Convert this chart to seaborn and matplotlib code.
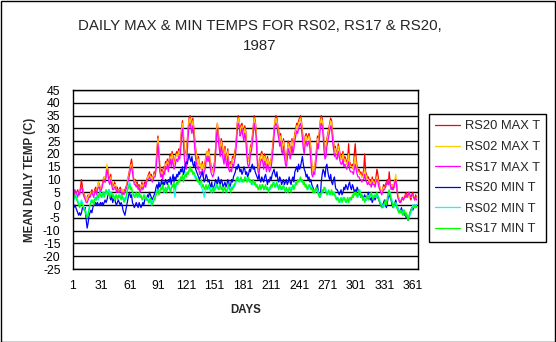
import numpy as np
import pandas as pd
import matplotlib
matplotlib.use("Agg")
import matplotlib.pyplot as plt
import seaborn as sns
from matplotlib.patches import Rectangle

# ---------------- data ----------------
SERIES_NAMES = ["RS20 MAX T", "RS02 MAX T", "RS17 MAX T",
                "RS20 MIN T", "RS02 MIN T", "RS17 MIN T"]
X_TICKS = [1, 31, 61, 91, 121, 151, 181, 211, 241, 271, 301, 331, 361]
Y_TICKS = list(range(-25, 50, 5))

RS20_MAX = [
    5, 6, 4, 3, 5, 6, 4, 5, 7, 10,
    7, 5, 4, 3, 2, 3, 4, 3, 4, 5,
    6, 5, 4, 6, 7, 5, 7, 9, 8, 6,
    7, 8, 10, 11, 9, 12, 15, 14, 11, 10,
    12, 9, 8, 7, 9, 8, 6, 7, 5, 6,
    7, 6, 5, 6, 5, 6, 7, 8, 10, 12,
    14, 16, 18, 15, 11, 9, 10, 8, 9, 7,
    8, 6, 7, 9, 7, 8, 9, 8, 10, 11,
    12, 13, 11, 12, 10, 11, 13, 12, 16, 22,
    27, 21, 15, 12, 14, 11, 15, 13, 17, 16,
    18, 15, 18, 20, 17, 21, 19, 16, 18, 20,
    21, 19, 22, 20, 24, 30, 33, 27, 22, 19,
    21, 25, 30, 34, 35, 33, 31, 34, 30, 26,
    22, 19, 17, 19, 15, 16, 14, 17, 13, 15,
    17, 20, 21, 19, 22, 18, 16, 14, 13, 15,
    17, 22, 30, 32, 28, 25, 22, 26, 24, 21,
    19, 23, 20, 18, 22, 17, 15, 17, 16, 19,
    18, 20, 22, 26, 32, 35, 33, 30, 31, 32,
    30, 28, 31, 29, 24, 19, 17, 19, 23, 24,
    27, 31, 35, 33, 30, 21, 15, 14, 18, 20,
    21, 19, 17, 20, 18, 16, 19, 17, 15, 17,
    18, 21, 25, 30, 33, 35, 34, 31, 29, 26,
    28, 24, 23, 26, 22, 18, 17, 21, 25, 24,
    20, 23, 26, 22, 25, 28, 30, 32, 31, 33,
    34, 35, 33, 29, 25, 23, 27, 28, 26, 27,
    28, 26, 22, 16, 13, 15, 14, 18, 22, 27,
    25, 29, 33, 35, 34, 30, 24, 20, 22, 26,
    28, 30, 32, 34, 33, 28, 25, 22, 23, 20,
    21, 24, 22, 20, 18, 19, 21, 17, 19, 18,
    16, 18, 24, 17, 16, 15, 16, 14, 20, 24,
    18, 15, 13, 14, 12, 13, 11, 12, 14, 20,
    13, 12, 10, 11, 9, 10, 8, 11, 9, 10,
    8, 11, 14, 12, 9, 7, 6, 5, 6, 8,
    7, 8, 9, 10, 8, 13, 9, 7, 8, 6,
    7, 10, 9, 8, 4, 3, 2, 1, 2, 3,
    2, 3, 4, 5, 3, 4, 5, 3, 2, 4,
    5, 3, 2, 4, 3,
]

RS02_MAX = [
    4, 5, 5, 3, 4, 5, 4, 5, 6, 7,
    6, 5, 3, 3, 2, 3, 3, 4, 4, 5,
    5, 5, 4, 5, 6, 5, 8, 9, 7, 6,
    7, 8, 9, 11, 10, 13, 16, 13, 10, 9,
    11, 9, 7, 7, 8, 8, 6, 6, 5, 6,
    6, 6, 5, 6, 5, 5, 6, 8, 10, 11,
    13, 15, 16, 14, 11, 9, 9, 8, 8, 7,
    7, 6, 7, 8, 7, 8, 8, 8, 9, 11,
    11, 12, 11, 11, 10, 11, 12, 12, 15, 21,
    26, 21, 15, 12, 13, 11, 14, 13, 16, 16,
    17, 15, 17, 19, 17, 20, 18, 16, 17, 19,
    20, 19, 21, 20, 23, 29, 32, 27, 21, 19,
    20, 24, 29, 33, 34, 32, 30, 33, 29, 25,
    21, 19, 16, 18, 15, 16, 14, 16, 13, 15,
    16, 19, 21, 19, 21, 18, 15, 14, 13, 14,
    16, 21, 29, 32, 27, 24, 21, 25, 23, 20,
    18, 22, 19, 18, 21, 16, 15, 16, 16, 18,
    18, 19, 21, 25, 31, 34, 33, 29, 30, 31,
    29, 27, 30, 28, 23, 19, 17, 18, 22, 23,
    26, 30, 34, 32, 29, 20, 15, 14, 17, 19,
    20, 19, 16, 19, 18, 15, 18, 17, 15, 16,
    18, 20, 24, 29, 33, 34, 33, 30, 28, 25,
    27, 24, 22, 25, 21, 18, 17, 20, 24, 23,
    20, 22, 25, 22, 24, 27, 29, 31, 30, 32,
    33, 34, 32, 28, 25, 22, 26, 27, 25, 26,
    27, 25, 21, 16, 13, 15, 14, 17, 21, 26,
    24, 28, 32, 34, 33, 29, 23, 20, 21, 25,
    27, 29, 31, 33, 32, 27, 24, 21, 22, 20,
    20, 23, 21, 19, 18, 18, 20, 17, 18, 17,
    16, 17, 20, 16, 15, 15, 15, 14, 17, 19,
    16, 14, 13, 13, 12, 12, 11, 11, 12, 14,
    12, 11, 10, 10, 9, 9, 8, 10, 9, 9,
    8, 10, 11, 10, 8, 7, 6, 5, 6, 7,
    7, 7, 8, 9, 8, 10, 8, 7, 8, 7,
    8, 10, 12, 8, 4, 3, 2, 2, 2, 3,
    3, 3, 3, 4, 3, 3, 4, 3, 3, 3,
    4, 3, 2, 3, 3,
]

RS17_MAX = [
    5, 4, 6, 5, 4, 3, 5, 4, 6, 7,
    6, 4, 3, 2, 1, 1, 2, 3, 3, 4,
    5, 4, 3, 5, 6, 4, 6, 7, 7, 5,
    6, 7, 9, 10, 9, 11, 14, 12, 9, 8,
    10, 8, 6, 6, 7, 7, 5, 6, 5, 5,
    6, 5, 4, 5, 4, 5, 6, 7, 9, 10,
    12, 14, 15, 13, 10, 8, 8, 7, 8, 6,
    7, 5, 6, 7, 6, 7, 8, 7, 9, 10,
    10, 11, 10, 10, 9, 10, 11, 11, 14, 19,
    24, 19, 13, 11, 12, 10, 13, 12, 15, 14,
    16, 13, 16, 18, 15, 18, 16, 14, 15, 17,
    18, 17, 19, 18, 21, 27, 30, 24, 18, 15,
    14, 20, 27, 31, 32, 30, 28, 31, 27, 22,
    18, 16, 14, 15, 12, 13, 12, 14, 11, 13,
    14, 17, 19, 17, 19, 16, 13, 12, 11, 12,
    14, 19, 27, 30, 25, 22, 19, 23, 21, 18,
    16, 20, 17, 15, 19, 14, 13, 14, 13, 16,
    15, 17, 19, 23, 29, 32, 31, 27, 28, 30,
    27, 25, 28, 26, 20, 16, 15, 16, 20, 21,
    24, 28, 32, 30, 27, 18, 13, 12, 15, 17,
    18, 17, 14, 17, 16, 13, 16, 15, 13, 14,
    15, 18, 22, 27, 31, 32, 31, 28, 26, 23,
    25, 21, 20, 23, 19, 16, 15, 18, 22, 21,
    18, 20, 23, 20, 22, 25, 27, 29, 28, 30,
    31, 32, 30, 26, 22, 20, 24, 25, 23, 24,
    25, 22, 17, 12, 11, 13, 12, 15, 19, 24,
    22, 26, 30, 32, 31, 27, 21, 18, 19, 23,
    25, 27, 29, 31, 30, 25, 22, 19, 20, 18,
    18, 21, 19, 17, 16, 16, 18, 15, 16, 15,
    14, 15, 17, 14, 13, 13, 13, 12, 14, 16,
    14, 12, 11, 11, 10, 10, 9, 10, 10, 12,
    10, 9, 8, 9, 8, 8, 7, 9, 8, 8,
    7, 9, 10, 9, 7, 6, 5, 4, 5, 6,
    6, 7, 8, 9, 8, 10, 8, 6, 7, 6,
    7, 9, 10, 7, 3, 2, 1, 1, 2, 3,
    2, 3, 3, 4, 3, 4, 5, 4, 3, 4,
    4, 3, 2, 3, 2,
]

RS20_MIN = [
    0, -1, 0, -1, -2, -3, -4, -3, -4, -3,
    -1, -1, -2, -1, -6, -9, -7, -4, -3, -2,
    -3, -1, 0, 0, 1, 0, 1, 0, 0, 1,
    0, 1, 0, 1, 2, 1, 2, 4, 6, 3,
    2, 4, 1, 2, 3, 1, 0, 1, 2, 1,
    0, 1, 0, -2, -3, -4, -2, 0, 2, 4,
    5, 3, 4, 1, 0, -1, 0, 1, 0, -1,
    1, 0, -1, 0, 1, 0, 2, 3, 2, 4,
    3, 5, 4, 3, 2, 3, 4, 5, 7, 8,
    6, 9, 7, 8, 10, 7, 9, 8, 10, 9,
    8, 10, 9, 11, 8, 10, 12, 9, 11, 10,
    12, 11, 13, 12, 14, 13, 15, 12, 13, 16,
    17, 16, 18, 20, 18, 17, 19, 16, 15, 17,
    14, 13, 12, 11, 10, 11, 12, 13, 11, 9,
    10, 12, 11, 9, 10, 8, 7, 9, 6, 7,
    8, 10, 9, 8, 11, 9, 8, 10, 9, 7,
    8, 9, 7, 8, 10, 9, 7, 8, 10, 9,
    11, 12, 13, 15, 14, 16, 15, 13, 14, 12,
    13, 15, 14, 12, 13, 11, 12, 14, 13, 15,
    16, 14, 15, 13, 12, 11, 10, 12, 10, 9,
    11, 10, 9, 11, 12, 10, 8, 10, 9, 11,
    10, 12, 13, 14, 12, 11, 13, 10, 9, 11,
    10, 8, 9, 10, 8, 9, 10, 8, 9, 11,
    9, 8, 10, 11, 9, 13, 14, 15, 13, 16,
    14, 15, 17, 19, 16, 14, 13, 11, 12, 10,
    11, 9, 10, 8, 7, 6, 5, 6, 7, 8,
    5, 4, 3, 9, 12, 14, 13, 11, 15, 16,
    13, 11, 10, 12, 9, 8, 10, 11, 7, 6,
    6, 5, 4, 5, 6, 4, 5, 7, 6, 8,
    7, 6, 8, 9, 7, 6, 8, 7, 5, 6,
    5, 7, 6, 4, 5, 3, 4, 2, 3, 4,
    3, 2, 4, 5, 3, 2, 3, 1, 2, 3,
    2, 3, 4, 3, 2, 1, 0, -1, 0, 1,
    2, 0, -1, 1, 3, 4, 3, 2, 0, -1,
    0, 1, 2, 0, -1, -2, -3, -2, -1, -3,
    -2, -4, -3, -5, -4, -6, -5, -3, -2, -1,
    -2, -1, 0, -1, 0,
]

RS02_MIN = [
    3, 2, 3, 4, 3, 2, 1, 0, 1, 2,
    1, 0, -1, -2, -3, -5, -3, -1, 0, 2,
    1, 2, 1, 3, 2, 3, 4, 2, 4, 5,
    4, 3, 5, 4, 5, 6, 4, 5, 6, 4,
    5, 4, 4, 3, 3, 4, 3, 3, 4, 3,
    4, 3, 3, 2, 2, 3, 2, 4, 7, 8,
    9, 7, 6, 5, 4, 4, 3, 4, 4, 3,
    4, 4, 3, 3, 2, 3, 4, 3, 2, 3,
    2, 1, 2, 0, 1, 2, 3, 2, 5, 6,
    5, 5, 6, 6, 7, 7, 6, 5, 6, 6,
    7, 7, 6, 6, 7, 7, 8, 5, 3, 7,
    8, 9, 9, 10, 10, 11, 11, 10, 10, 13,
    12, 12, 13, 13, 14, 14, 13, 13, 12, 11,
    10, 11, 10, 9, 9, 8, 7, 6, 5, 3,
    5, 7, 7, 6, 7, 7, 6, 5, 6, 6,
    7, 6, 7, 8, 7, 6, 7, 7, 6, 6,
    7, 6, 6, 5, 6, 7, 7, 6, 6, 7,
    8, 7, 8, 9, 10, 11, 10, 9, 10, 10,
    9, 10, 10, 11, 10, 9, 10, 10, 9, 9,
    8, 9, 9, 8, 8, 7, 7, 6, 7, 7,
    8, 7, 7, 6, 7, 7, 6, 6, 7, 6,
    7, 8, 8, 9, 8, 7, 8, 8, 7, 7,
    6, 7, 6, 7, 7, 6, 6, 5, 6, 6,
    7, 6, 6, 7, 7, 8, 8, 9, 9, 10,
    9, 10, 10, 9, 9, 8, 8, 7, 7, 6,
    7, 8, 7, 6, 6, 5, 6, 5, 6, 6,
    5, 4, 3, 4, 5, 6, 6, 7, 6, 5,
    4, 5, 5, 4, 5, 5, 4, 5, 4, 3,
    2, 3, 2, 1, 2, 2, 3, 2, 3, 2,
    1, 2, 2, 3, 2, 3, 3, 4, 4, 5,
    4, 4, 3, 5, 6, 4, 3, 3, 2, 2,
    3, 2, 3, 3, 4, 3, 4, 4, 3, 3,
    4, 3, 4, 4, 3, 2, 1, 0, 0, -1,
    0, 1, 1, 2, 4, 5, 5, 3, 2, 0,
    -1, 0, 1, 0, -1, -2, -3, -2, -3, -3,
    -2, -3, -3, -4, -4, -5, -5, -4, -3, -2,
    0, -1, 0, -1, 0,
]

RS17_MIN = [
    2, 3, 4, 3, 2, 1, 0, -1, 0, 1,
    0, -1, -2, -3, -4, -5, -4, -2, 0, 1,
    2, 1, 0, 2, 3, 2, 4, 3, 5, 4,
    3, 4, 5, 3, 4, 6, 5, 4, 5, 3,
    4, 5, 3, 4, 2, 3, 4, 2, 3, 4,
    3, 2, 4, 3, 1, 2, 3, 5, 6, 7,
    8, 6, 7, 5, 4, 3, 4, 5, 3, 4,
    5, 3, 4, 2, 3, 4, 3, 2, 3, 2,
    1, 2, 3, 1, 0, 1, 2, 3, 4, 5,
    6, 4, 5, 7, 6, 8, 5, 6, 7, 5,
    6, 8, 7, 5, 6, 8, 7, 9, 6, 8,
    9, 8, 10, 9, 11, 10, 12, 9, 11, 12,
    11, 13, 12, 14, 15, 13, 14, 12, 13, 12,
    11, 10, 9, 10, 8, 9, 10, 7, 8, 6,
    7, 8, 6, 7, 8, 6, 5, 6, 7, 5,
    6, 7, 8, 7, 6, 7, 8, 6, 7, 5,
    6, 7, 5, 6, 7, 8, 6, 5, 7, 6,
    7, 8, 9, 10, 11, 10, 9, 10, 11, 9,
    10, 9, 11, 10, 9, 10, 11, 9, 10, 8,
    9, 10, 8, 9, 7, 8, 6, 7, 8, 6,
    7, 8, 6, 7, 8, 6, 7, 5, 6, 7,
    8, 7, 9, 8, 7, 8, 9, 7, 6, 8,
    7, 6, 7, 8, 6, 5, 7, 6, 5, 7,
    6, 5, 7, 8, 6, 7, 9, 8, 10, 9,
    10, 11, 9, 10, 8, 9, 7, 8, 6, 7,
    8, 7, 6, 7, 5, 6, 5, 6, 7, 5,
    4, 3, 4, 5, 6, 5, 7, 6, 5, 4,
    5, 6, 4, 5, 6, 4, 5, 4, 3, 2,
    3, 2, 1, 2, 3, 1, 2, 3, 2, 1,
    2, 3, 1, 2, 3, 2, 4, 3, 5, 4,
    5, 3, 4, 6, 5, 3, 4, 2, 3, 1,
    2, 3, 4, 2, 3, 4, 5, 3, 2, 4,
    3, 4, 5, 3, 2, 1, 0, -1, -1, 0,
    1, 2, 0, 3, 5, 6, 4, 2, 1, -1,
    0, 1, 0, -1, -2, -3, -2, -3, -2, -4,
    -3, -2, -4, -3, -5, -6, -4, -3, -2, -1,
    -1, 0, -1, 0, -1,
]

SERIES_VALUES = [RS20_MAX, RS02_MAX, RS17_MAX, RS20_MIN, RS02_MIN, RS17_MIN]
COLORS = ["#FF0000", "#FFCC00", "#FF00FF", "#0000FF", "#00FFFF", "#00FF00"]

# long-format table for seaborn
frames = []
for name, vals in zip(SERIES_NAMES, SERIES_VALUES):
    frames.append(pd.DataFrame({"day": np.arange(1, len(vals) + 1),
                                "temp": vals, "series": name}))
df = pd.concat(frames, ignore_index=True)

# ---------------- style ----------------
sns.set_style("white")
plt.rcParams["font.family"] = ["Liberation Sans", "DejaVu Sans"]

W, H = 556, 342
fig = plt.figure(figsize=(W / 100, H / 100), dpi=100)
fig.patch.set_facecolor("white")
L, R, T, B = 73, 418, 90, 269
ax = fig.add_axes([L / W, 1 - B / H, (R - L) / W, (B - T) / H])

for name, col in zip(SERIES_NAMES, COLORS):
    sns.lineplot(data=df[df["series"] == name], x="day", y="temp",
                 color=col, linewidth=0.9, label=name, ax=ax,
                 estimator=None, errorbar=None)

ax.set_xlim(1, 366.5)
ax.set_ylim(-25, 45)
ax.set_yticks(Y_TICKS)
ax.set_yticklabels([str(v) for v in Y_TICKS])
ax.set_xticks(X_TICKS)
ax.set_xticklabels([str(v) for v in X_TICKS])
ax.yaxis.grid(True, color="black", linewidth=1.0)
ax.xaxis.grid(False)
ax.set_axisbelow(True)
for s in ax.spines.values():
    s.set_visible(True)
    s.set_color("black")
    s.set_linewidth(1.0)
ax.tick_params(axis="both", which="major", direction="out", length=4,
               width=1, color="black", labelsize=8.8, labelcolor="black")
ax.tick_params(axis="x", pad=4)
ax.tick_params(axis="y", pad=5)

ax.set_xlabel("DAYS", fontsize=8.3, fontweight="bold")
ax.xaxis.label.set_va("center")
ax.xaxis.set_label_coords(0.5, -(310 - B) / (B - T))
ax.set_ylabel("MEAN DAILY TEMP (C)", fontsize=8.3, fontweight="bold")
ax.yaxis.label.set_va("center")
ax.yaxis.set_label_coords(-(L - 30) / (R - L), 0.5)

fig.text(260 / W, 1 - 25.7 / H, "DAILY MAX & MIN TEMPS FOR RS02, RS17 & RS20,",
         ha="center", va="center", fontsize=10.8)
fig.text(260 / W, 1 - 45.7 / H, "1987", ha="center", va="center", fontsize=10.8)

leg = ax.legend(loc="upper left", bbox_to_anchor=(429 / W, 1 - 114 / H),
                bbox_transform=fig.transFigure, frameon=True, fancybox=False,
                shadow=False, framealpha=1, edgecolor="black", fontsize=9.3,
                handlelength=1.9, handletextpad=0.35, labelspacing=0.66,
                borderpad=0.5, borderaxespad=0)
leg.get_frame().set_linewidth(1.0)

fig.add_artist(Rectangle((0.5 / W, 0.5 / H), 1 - 1.5 / W, 1 - 1.5 / H,
                         transform=fig.transFigure, fill=False,
                         edgecolor="black", linewidth=1.0))

fig.savefig("out.png", dpi=100, facecolor="white")
